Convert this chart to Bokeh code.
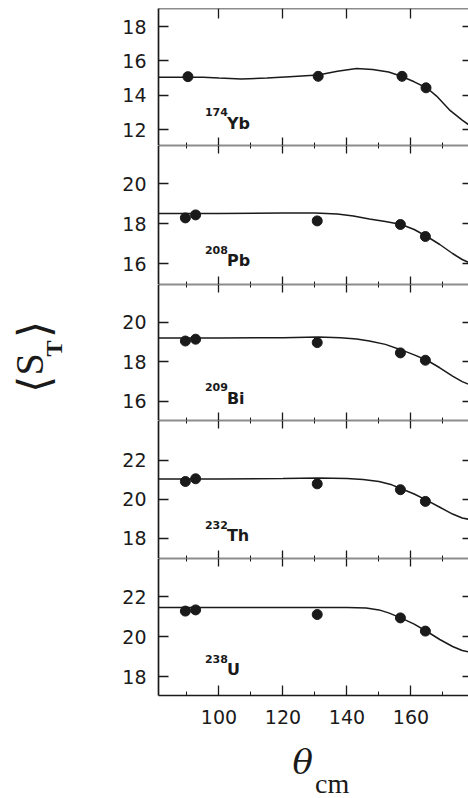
import math
from bokeh.plotting import figure
from bokeh.layouts import column, row
from bokeh.models import Range1d, LinearAxis, FixedTicker, CustomJSTickFormatter
from bokeh.core.properties import value
from bokeh.embed import file_html
from bokeh.resources import INLINE

# ---------------- data ----------------
elements = ["Yb", "Pb", "Bi", "Th", "U"]
mass_numbers = ["174", "208", "209", "232", "238"]

# measured points (theta_cm in degrees, <S_T>)
theta_yb = [90.3, 131.0, 157.2, 164.7]
st_yb = [15.08, 15.10, 15.10, 14.43]
theta_pts = [89.5, 92.7, 130.7, 156.7, 164.5]
st_pb = [18.28, 18.43, 18.13, 17.95, 17.35]
st_bi = [19.05, 19.14, 18.97, 18.45, 18.08]
st_th = [20.92, 21.06, 20.80, 20.50, 19.90]
st_u = [21.27, 21.33, 21.10, 20.93, 20.27]

# model curves
curve_x_yb = [81, 90, 95, 100, 107, 115, 122, 131, 137, 143, 148, 153, 157, 161, 165, 168, 172, 176, 179]
curve_y_yb = [15.05, 15.05, 15.05, 15.0, 14.95, 15.0, 15.08, 15.18, 15.4, 15.55, 15.5, 15.35, 15.1, 14.78, 14.42, 13.95, 13.15, 12.55, 12.15]
curve_x_pb = [81, 100, 120, 130, 137, 142, 147, 152, 157, 161, 165, 169, 173, 176, 179]
curve_y_pb = [18.5, 18.5, 18.52, 18.52, 18.48, 18.38, 18.23, 18.1, 17.95, 17.7, 17.35, 16.95, 16.5, 16.2, 15.98]
curve_x_bi = [81, 100, 120, 131, 138, 143, 147, 152, 157, 161, 165, 169, 173, 176, 179]
curve_y_bi = [19.2, 19.2, 19.22, 19.25, 19.22, 19.15, 19.05, 18.88, 18.6, 18.35, 18.08, 17.7, 17.28, 17.0, 16.8]
curve_x_th = [81, 100, 120, 131, 140, 145, 150, 154, 157, 161, 165, 169, 173, 176, 179]
curve_y_th = [21.05, 21.05, 21.08, 21.1, 21.08, 21.02, 20.92, 20.75, 20.55, 20.28, 19.95, 19.6, 19.25, 19.05, 18.95]
curve_x_u = [81, 100, 120, 131, 140, 146, 150, 153, 157, 161, 165, 169, 173, 176, 179]
curve_y_u = [21.45, 21.45, 21.45, 21.45, 21.45, 21.42, 21.33, 21.18, 20.92, 20.62, 20.25, 19.85, 19.5, 19.3, 19.2]

# axis ticks
x_major_ticks = [100, 120, 140, 160]
x_minor_ticks = [90, 110, 130, 150, 170]
y_ticks = [[12, 14, 16, 18], [16, 18, 20], [16, 18, 20], [18, 20, 22], [18, 20, 22]]

# axis titles
y_title_parts = ["⟨", "S", "T", "⟩"]
x_title_parts = ["θ", "cm"]

# isotope label anchor (data coords, centre of the element symbol)
label_theta = 95.6
label_st = [12.38, 16.15, 16.15, 18.13, 18.35]

panels = [
    (theta_yb, st_yb, curve_x_yb, curve_y_yb),
    (theta_pts, st_pb, curve_x_pb, curve_y_pb),
    (theta_pts, st_bi, curve_x_bi, curve_y_bi),
    (theta_pts, st_th, curve_x_th, curve_y_th),
    (theta_pts, st_u, curve_x_u, curve_y_u),
]

# ---------------- layout / style ----------------
TOTAL_H = 798
LEFT_W = 70          # strip holding the y title
PANEL_W = 398
LEFT_BORDER = 88     # frame starts at x = 158
FRAME_W = PANEL_W - LEFT_BORDER
X0 = 81.1
X_RANGE = (X0, X0 + FRAME_W / 3.2)
Y_RANGES = [(11.07, 19.05), (14.95, 21.9), (15.04, 21.9), (16.97, 24.05), (17.05, 23.9)]
FRAME_H = [137, 139, 136, 138, 137]
TOP = 8
AXIS_BOTTOM = 40
TICK_FONT = "DejaVu Sans"
INK = "#1a1a1a"
LW = 1.7
blank = CustomJSTickFormatter(code="return ''")
x_range = Range1d(*X_RANGE)

figs = []
for i, (px, py, cx, cy) in enumerate(panels):
    first = i == 0
    last = i == len(panels) - 1
    h = FRAME_H[i] + (TOP if first else 0) + (AXIS_BOTTOM if last else 0)
    p = figure(width=PANEL_W, height=h,
               x_range=x_range, y_range=Range1d(*Y_RANGES[i]),
               x_axis_location=None, y_axis_location=None,
               output_backend="svg", toolbar_location=None,
               min_border_left=LEFT_BORDER, min_border_right=0,
               min_border_top=TOP if first else 0,
               min_border_bottom=AXIS_BOTTOM if last else 0)
    p.grid.visible = False
    p.outline_line_color = None

    ly = LinearAxis(ticker=FixedTicker(ticks=y_ticks[i], minor_ticks=[]),
                    major_tick_in=10, major_tick_out=0,
                    minor_tick_in=0, minor_tick_out=0,
                    major_label_standoff=12,
                    axis_line_color=INK, axis_line_width=LW,
                    major_tick_line_width=1.3, major_tick_line_color=INK)
    ly.major_label_text_font = TICK_FONT
    ly.major_label_text_font_size = "19px"
    ly.major_label_text_color = INK
    p.add_layout(ly, "left")

    ry = LinearAxis(fixed_location=X_RANGE[1],
                    ticker=FixedTicker(ticks=y_ticks[i], minor_ticks=[]),
                    major_tick_in=6, major_tick_out=0,
                    minor_tick_in=0, minor_tick_out=0,
                    axis_line_color=None, formatter=blank,
                    major_tick_line_width=1.3, major_tick_line_color=INK)
    p.add_layout(ry, "right")

    tx = LinearAxis(fixed_location=Y_RANGES[i][1],
                    ticker=FixedTicker(ticks=x_major_ticks, minor_ticks=x_minor_ticks),
                    major_tick_in=10 if first else 8, major_tick_out=0,
                    minor_tick_in=0 if first else 3, minor_tick_out=0,
                    axis_line_color=INK, axis_line_width=LW, formatter=blank,
                    major_tick_line_width=1.3, major_tick_line_color=INK,
                    minor_tick_line_color=INK)
    p.add_layout(tx, "above")

    if not last:
        bx = LinearAxis(fixed_location=Y_RANGES[i][0],
                        ticker=FixedTicker(ticks=x_major_ticks, minor_ticks=x_minor_ticks),
                        major_tick_in=8, major_tick_out=0,
                        minor_tick_in=3, minor_tick_out=0,
                        axis_line_color=INK, axis_line_width=LW, formatter=blank,
                        major_tick_line_width=1.3, major_tick_line_color=INK,
                        minor_tick_line_color=INK)
    else:
        bx = LinearAxis(ticker=FixedTicker(ticks=x_major_ticks, minor_ticks=x_minor_ticks),
                        major_tick_in=10, major_tick_out=0,
                        minor_tick_in=4, minor_tick_out=0,
                        major_label_standoff=14,
                        axis_line_color=INK, axis_line_width=LW,
                        major_tick_line_width=1.3, major_tick_line_color=INK,
                        minor_tick_line_color=INK)
        bx.major_label_text_font = TICK_FONT
        bx.major_label_text_font_size = "19px"
        bx.major_label_text_color = INK
    p.add_layout(bx, "below")

    p.line(cx, cy, line_color=INK, line_width=1.5)
    p.scatter(px, py, size=10, color=INK)

    p.text(x=[label_theta], y=[label_st[i]], text=[mass_numbers[i]],
           text_font=value("DejaVu Sans"), text_font_size="11px", text_font_style="bold",
           text_baseline="middle", y_offset=-11, text_color=INK)
    p.text(x=[label_theta], y=[label_st[i]], text=[elements[i]],
           text_font=value("DejaVu Sans"), text_font_size="16px", text_font_style="bold",
           text_baseline="middle", x_offset=22, text_color=INK)
    figs.append(p)

# strip below the bottom panel for the x title (pixel coordinates, y downward)
used_h = sum(FRAME_H) + TOP + AXIS_BOTTOM
bottom_strip = figure(width=PANEL_W, height=TOTAL_H - used_h,
                      x_range=x_range, y_range=Range1d(TOTAL_H, used_h),
                      x_axis_location=None, y_axis_location=None,
                      output_backend="svg", toolbar_location=None,
                      min_border_left=LEFT_BORDER, min_border_right=0,
                      min_border_top=0, min_border_bottom=0)
bottom_strip.grid.visible = False
bottom_strip.outline_line_color = None
bottom_strip.text(x=[123.0], y=[761], text=[x_title_parts[0]],
                  text_font=value("DejaVu Serif"), text_font_style="italic",
                  text_font_size="34px", text_baseline="middle", text_color=INK)
bottom_strip.text(x=[130.0], y=[783], text=[x_title_parts[1]],
                  text_font=value("Liberation Serif"), text_font_size="28px",
                  text_baseline="middle", text_color=INK)

# strip at the left for the y title (pixel coordinates, y downward)
left_strip = figure(width=LEFT_W, height=TOTAL_H,
                    x_range=Range1d(0, LEFT_W), y_range=Range1d(TOTAL_H, 0),
                    x_axis_location=None, y_axis_location=None,
                    output_backend="svg", toolbar_location=None,
                    min_border_left=0, min_border_right=0,
                    min_border_top=0, min_border_bottom=0)
left_strip.grid.visible = False
left_strip.outline_line_color = None
for txt, sx, sy, size, font, style in [
    (y_title_parts[0], 33, 384, "44px", "DejaVu Serif", "normal"),
    (y_title_parts[1], 29, 364, "40px", "Liberation Serif", "normal"),
    (y_title_parts[2], 53, 348, "24px", "Liberation Serif", "bold"),
    (y_title_parts[3], 33, 329, "44px", "DejaVu Serif", "normal"),
]:
    left_strip.text(x=[sx], y=[sy], text=[txt], angle=math.pi / 2,
                    text_align="center", text_baseline="middle",
                    text_font=value(font), text_font_size=size, text_font_style=style,
                    text_color=INK)

layout = row(left_strip, column(*figs, bottom_strip, spacing=0), spacing=0)
open("out.html", "w").write(file_html(layout, INLINE))
